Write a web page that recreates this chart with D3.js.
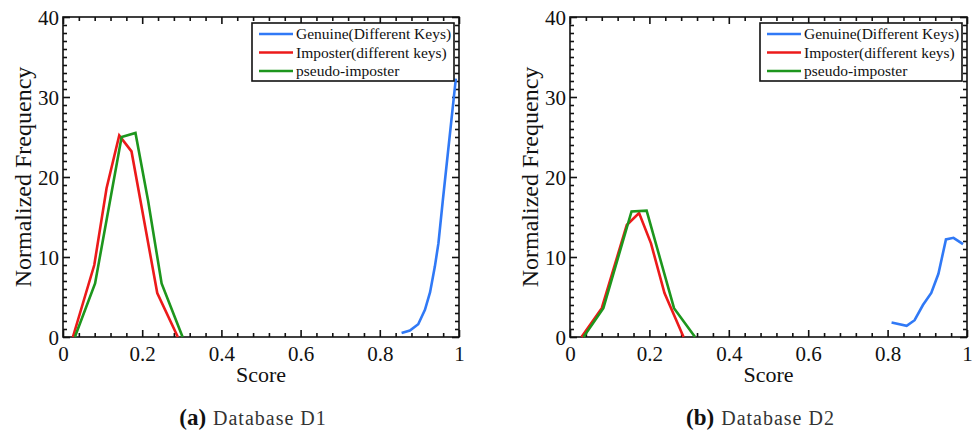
<!DOCTYPE html>
<html>
<head>
<meta charset="utf-8">
<script src="https://cdn.jsdelivr.net/npm/d3@7"></script>
<style>
  body { margin: 0; background: #fff; }
  svg { display: block; }
  text { font-family: "Liberation Serif", "Times New Roman", Tinos, "DejaVu Serif", serif; fill: #111; }
</style>
</head>
<body>
<svg id="chart" width="974" height="431"></svg>
<script>
// series names
var seriesNames = ["Genuine(Different Keys)", "Imposter(different keys)", "pseudo-imposter"];
var seriesColors = ["#3079f6", "#ec1a1a", "#1d961d"];

// Database D1: [score, normalized frequency]
var d1Genuine = [[0.855, 0.5], [0.876, 0.8], [0.897, 1.6], [0.914, 3.4], [0.927, 5.6], [0.939, 8.8], [0.948, 11.7], [0.959, 17.0], [0.992, 32.3]];
var d1Imposter = [[0.025, 0], [0.079, 9.0], [0.110, 18.6], [0.142, 25.2], [0.173, 23.2], [0.238, 5.5], [0.290, 0]];
var d1Pseudo = [[0.030, 0], [0.081, 6.7], [0.148, 25.0], [0.183, 25.5], [0.215, 17.0], [0.249, 6.7], [0.302, 0]];

// Database D2
var d2Genuine = [[0.810, 1.8], [0.848, 1.4], [0.868, 2.1], [0.889, 4.0], [0.910, 5.5], [0.928, 7.9], [0.947, 12.2], [0.966, 12.4], [0.990, 11.6]];
var d2Imposter = [[0.029, 0], [0.080, 3.6], [0.143, 14.0], [0.174, 15.5], [0.204, 11.7], [0.238, 5.5], [0.286, 0]];
var d2Pseudo = [[0.034, 0], [0.084, 3.6], [0.155, 15.7], [0.193, 15.8], [0.262, 3.6], [0.315, 0]];

var xTicks = [0, 0.2, 0.4, 0.6, 0.8, 1];
var yTicks = [0, 10, 20, 30, 40];

var svg = d3.select("#chart");

var panels = [
  { left: 63, right: 459, series: [d1Genuine, d1Imposter, d1Pseudo], tag: "(a)", caption: "Database D1" },
  { left: 570, right: 967, series: [d2Genuine, d2Imposter, d2Pseudo], tag: "(b)", caption: "Database D2" }
];

var plotTop = 17, plotBottom = 337;

panels.forEach(drawPanel);

function drawPanel(p) {
  var g = svg.append("g");
  var x = d3.scaleLinear().domain([0, 1]).range([p.left, p.right]);
  var y = d3.scaleLinear().domain([0, 40]).range([plotBottom, plotTop]);

  var xMinor = d3.range(0, 1.0001, 0.04).filter(function (v) { return Math.abs(v / 0.2 - Math.round(v / 0.2)) > 1e-6; });
  var yMinor = d3.range(0, 40.5, 1).filter(function (v) { return v % 10 !== 0; });

  // bottom axis with labels
  var gb = g.append("g").attr("transform", "translate(0," + plotBottom + ")")
    .call(d3.axisBottom(x).tickValues(xTicks).tickSize(-7).tickPadding(9)
      .tickFormat(function (d) { return d === 0 || d === 1 ? d3.format("d")(d) : d3.format(".1f")(d); }));
  gb.append("g").call(d3.axisBottom(x).tickValues(xMinor).tickSize(-4).tickFormat(""));
  // top mirror ticks
  var gt = g.append("g").attr("transform", "translate(0," + plotTop + ")")
    .call(d3.axisTop(x).tickValues(xTicks).tickSize(-7).tickFormat(""));
  gt.append("g").call(d3.axisTop(x).tickValues(xMinor).tickSize(-4).tickFormat(""));
  // left axis with labels
  var gl = g.append("g").attr("transform", "translate(" + p.left + ",0)")
    .call(d3.axisLeft(y).tickValues(yTicks).tickSize(-7).tickPadding(4));
  gl.append("g").call(d3.axisLeft(y).tickValues(yMinor).tickSize(-4).tickFormat(""));
  // right mirror ticks
  var gr = g.append("g").attr("transform", "translate(" + p.right + ",0)")
    .call(d3.axisRight(y).tickValues(yTicks).tickSize(-7).tickFormat(""));
  gr.append("g").call(d3.axisRight(y).tickValues(yMinor).tickSize(-4).tickFormat(""));

  g.selectAll(".domain").remove();
  g.selectAll(".tick line").attr("stroke", "#111").attr("stroke-width", 1.6);
  g.selectAll(".tick text")
    .style("font-family", "'Liberation Serif', 'Times New Roman', Tinos, serif")
    .style("font-size", "21px").attr("fill", "#111");
  gl.selectAll(".tick text").attr("dy", "0.36em");

  // frame
  g.append("rect")
    .attr("x", p.left).attr("y", plotTop)
    .attr("width", p.right - p.left).attr("height", plotBottom - plotTop)
    .attr("fill", "none").attr("stroke", "#111").attr("stroke-width", 1.6);

  // lines
  var line = d3.line().x(function (d) { return x(d[0]); }).y(function (d) { return y(d[1]); });
  p.series.forEach(function (s, i) {
    g.append("path").datum(s).attr("d", line)
      .attr("fill", "none").attr("stroke", seriesColors[i])
      .attr("stroke-width", 2.6).attr("stroke-linejoin", "miter");
  });

  // legend
  var lx = p.right - 207, ly = 23;
  var lg = g.append("g").attr("transform", "translate(" + lx + "," + ly + ")");
  lg.append("rect").attr("width", 202).attr("height", 58)
    .attr("fill", "#fff").attr("stroke", "#111").attr("stroke-width", 1.6);
  seriesNames.forEach(function (name, i) {
    var yy = 11 + i * 18.5;
    lg.append("line").attr("x1", 7).attr("x2", 41).attr("y1", yy).attr("y2", yy)
      .attr("stroke", seriesColors[i]).attr("stroke-width", 2.6);
    lg.append("text").attr("x", 44).attr("y", yy).attr("dy", "0.35em")
      .style("font-size", "15.5px").text(name);
  });

  // axis titles
  g.append("text").attr("x", (p.left + p.right) / 2).attr("y", 382)
    .attr("text-anchor", "middle").style("font-size", "22px").text("Score");
  g.append("text")
    .attr("transform", "translate(" + (p.left - 32) + "," + ((plotTop + plotBottom) / 2) + ") rotate(-90)")
    .attr("text-anchor", "middle").style("font-size", "24px").text("Normalized Frequency");

  // caption
  var cap = g.append("text").attr("x", x(0.5) - 8).attr("y", 425).attr("text-anchor", "middle");
  cap.append("tspan").style("font-weight", "bold").style("font-size", "23px").text(p.tag);
  cap.append("tspan").style("font-size", "20px").style("letter-spacing", "1px")
    .attr("dx", 7).attr("fill", "#333").text(p.caption);
}
</script>
</body>
</html>
